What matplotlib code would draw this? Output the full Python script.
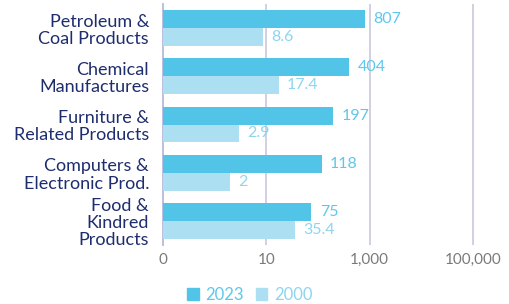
import matplotlib.pyplot as plt
import numpy as np
from matplotlib.patches import Patch

plt.rcParams['font.family'] = ['Lato', 'DejaVu Sans']

categories = ['Petroleum &\nCoal Products', 'Chemical\nManufactures', 'Furniture &\nRelated Products',
              'Computers &\nElectronic Prod.', 'Food &\nKindred\nProducts']
v2023 = [807, 404, 197, 118, 75]
v2000 = [8.6, 17.4, 2.9, 2, 35.4]
lab2023 = ['807', '404', '197', '118', '75']
lab2000 = ['8.6', '17.4', '2.9', '2', '35.4']
tick_vals = [0.1, 10, 1000, 100000]
tick_labels = ['0', '10', '1,000', '100,000']

c23 = '#52c4e8'
c00 = '#addff3'
t23 = '#5ec8ea'
t00 = '#8ed5ef'
navy = '#1e2d6e'

fig = plt.figure(figsize=(5.1, 3.04), dpi=100)
ax = fig.add_axes([163/510, 1-245/304, 1-163/510, 241/304])

y = np.arange(len(categories))
h = 0.37
base = 0.1
ax.barh(y - h/2, np.array(v2023) - base, left=base, height=h, color=c23, zorder=3)
ax.barh(y + h/2, np.array(v2000) - base, left=base, height=h, color=c00, zorder=3)

ax.set_xscale('log')
ax.set_xlim(0.1, 10**5.72)
ax.set_ylim(len(categories) - 0.5, -0.5)

for i in range(len(categories)):
    ax.annotate(lab2023[i], (v2023[i], y[i] - h/2), xytext=(6, 0), textcoords='offset points',
                va='center', ha='left', color=t23, fontsize=11.5, zorder=4)
    ax.annotate(lab2000[i], (v2000[i], y[i] + h/2), xytext=(6, 0), textcoords='offset points',
                va='center', ha='left', color=t00, fontsize=11.5, zorder=4)

ax.set_xticks(tick_vals)
ax.set_xticklabels(tick_labels, color='#7a7a7a', fontsize=11)
ax.xaxis.set_minor_locator(plt.NullLocator())
ax.tick_params(axis='x', length=0, pad=6)
ax.set_yticks(y)
ax.set_yticklabels(categories, color=navy, fontsize=13, linespacing=1.1)
ax.tick_params(axis='y', length=0, pad=10)

for v in tick_vals[1:]:
    ax.axvline(v, color='#cdcde0', lw=1.3, zorder=1)

for s in ['top', 'right', 'bottom']:
    ax.spines[s].set_visible(False)
ax.spines['left'].set_color('#b8b8dc')
ax.spines['left'].set_linewidth(1.3)

handles = [Patch(color=c23, label='2023'), Patch(color=c00, label='2000')]
leg = fig.legend(handles=handles, loc='lower center', bbox_to_anchor=(0.49, -0.045), ncol=2,
                 frameon=False, fontsize=12, handlelength=0.7, handleheight=0.7,
                 handletextpad=0.4, columnspacing=0.7)
leg.get_texts()[0].set_color(t23)
leg.get_texts()[1].set_color(t00)

fig.savefig('out.png', dpi=100)
